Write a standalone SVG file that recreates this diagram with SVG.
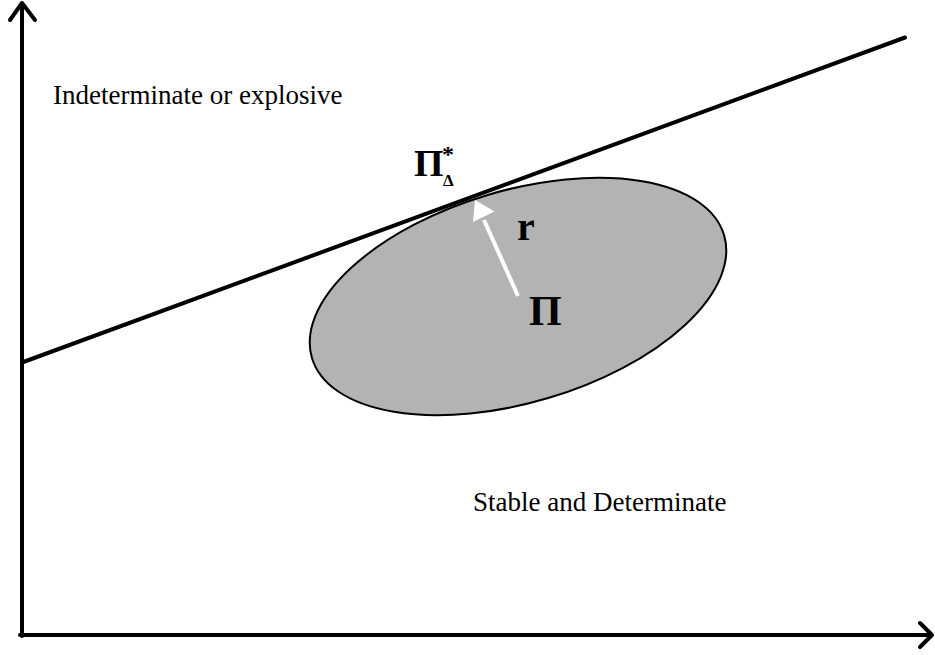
<svg xmlns="http://www.w3.org/2000/svg" width="935" height="655" viewBox="0 0 935 655">
<style>
.ax{stroke:#000;stroke-width:4;fill:none;stroke-linecap:round;stroke-linejoin:round}
.t{font-family:"Liberation Serif","Times New Roman",serif;fill:#000}
.s{font-family:"Liberation Serif","Times New Roman",serif;fill:#000;font-weight:bold}
</style>
<rect width="935" height="655" fill="#fff"/>
<g id="axes">
<line class="ax" x1="22" y1="636" x2="22" y2="4"/>
<polyline class="ax" points="10,20 22,3 35,20"/>
<line class="ax" x1="20" y1="635" x2="931" y2="635"/>
<polyline class="ax" points="920,623 932,635 920,647"/>
</g>
<g id="region">
<ellipse cx="518" cy="296.5" rx="215" ry="106" transform="rotate(-16.6 518 296.5)" fill="#b3b3b3" stroke="#000" stroke-width="2"/>
</g>
<g id="boundary">
<line x1="22" y1="362.5" x2="905" y2="37.5" stroke="#000" stroke-width="4" stroke-linecap="round"/>
</g>
<g id="connectors">
<line x1="518" y1="296" x2="484" y2="220" stroke="#fff" stroke-width="4"/>
<polygon points="475,200 494.5,211.5 473,222" fill="#fff"/>
</g>
<g id="labels">
<text class="t" x="53" y="104" font-size="27">Indeterminate or explosive</text>
<text class="t" x="473" y="511" font-size="27">Stable and Determinate</text>
<text class="s" x="414" y="176" font-size="38">Π</text>
<text class="s" x="443" y="186" font-size="17">Δ</text>
<text class="s" x="442" y="162" font-size="24">*</text>
<text class="s" x="517" y="240" font-size="40">r</text>
<text class="s" x="529" y="325" font-size="42">Π</text>
</g>
</svg>
